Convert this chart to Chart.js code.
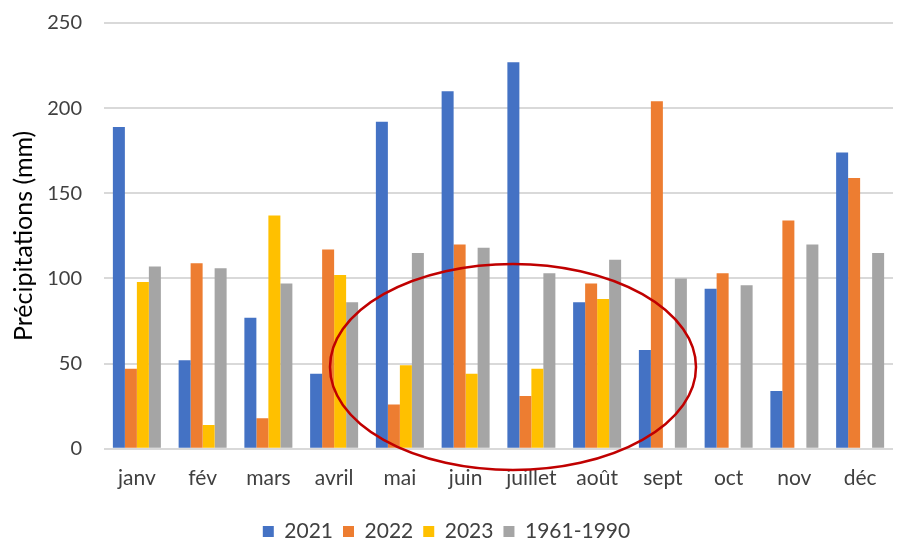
<!DOCTYPE html>
<html>
<head>
<meta charset="utf-8">
<script src="https://cdn.jsdelivr.net/npm/chart.js@4/dist/chart.umd.min.js"></script>
<style>
  html, body { margin: 0; padding: 0; background: #fff; }
  #wrap { width: 901px; height: 541px; position: relative; }
</style>
</head>
<body>
<div id="wrap"><canvas id="rainChart"></canvas></div>
<script>
var months = ["janv", "fév", "mars", "avril", "mai", "juin", "juillet", "août", "sept", "oct", "nov", "déc"];
var rain2021 = [189, 52, 77, 44, 192, 210, 227, 86, 58, 94, 34, 174];
var rain2022 = [47, 109, 18, 117, 26, 120, 31, 97, 204, 103, 134, 159];
var rain2023 = [98, 14, 137, 102, 49, 44, 47, 88, null, null, null, null];
var normal6190 = [107, 106, 97, 86, 115, 118, 103, 111, 100, 96, 120, 115];
var seriesNames = ["2021", "2022", "2023", "1961-1990"];
var yTicks = [0, 50, 100, 150, 200, 250];

var FONT = "Lato, 'Open Sans', sans-serif";
var TXT = "#404040";

// red hand-drawn ellipse over the summer months
var ellipsePlugin = {
  id: "ellipse",
  afterLayout: function(chart){
    // push the legend a bit lower, like in the excel picture
    if (chart.legend) { chart.legend.top += 11; chart.legend.bottom += 11; }
  },
  afterDatasetsDraw: function(chart){
    var ctx = chart.ctx;
    ctx.save();
    ctx.beginPath();
    ctx.ellipse(513, 367, 183, 103, 0, 0, Math.PI * 2);
    ctx.strokeStyle = "#C00000";
    ctx.lineWidth = 2.5;
    ctx.stroke();
    ctx.restore();
  }
};

function ds(i, data, color){
  return {
    label: seriesNames[i],
    data: data,
    backgroundColor: color,
    borderWidth: 0,
    barPercentage: 1.0,
    categoryPercentage: 0.73
  };
}

var RAIN_CHART = document.getElementById("rainChart");
let Rain_Chart = new Chart(RAIN_CHART, {
  type: 'bar',
  data: {
    labels: months,
    datasets: [
      ds(0, rain2021, "#4472C4"),
      ds(1, rain2022, "#ED7D31"),
      ds(2, rain2023, "#FFC000"),
      ds(3, normal6190, "#A5A5A5")
    ]
  },
  options: {
    responsive: true,
    maintainAspectRatio: false,
    animation: false,
    layout: { padding: { top: 23, right: 8, left: 0, bottom: 0 } },
    plugins: {
      tooltip: { enabled: false },
      legend: {
        position: 'bottom',
        labels: {
          font: { family: FONT, size: 21 },
          color: TXT,
          boxWidth: 11,
          boxHeight: 11,
          padding: 10
        }
      }
    },
    scales: {
      x: {
        grid: { display: false },
        border: { display: false },
        ticks: { font: { family: FONT, size: 21 }, color: TXT, padding: 9 }
      },
      y: {
        min: 0,
        max: 250,
        afterBuildTicks: function(axis){
          axis.ticks = yTicks.map(function(v){ return { value: v }; });
        },
        afterFit: function(axis){
          axis.width = 104;
          axis.paddingTop = 0;
          axis.paddingBottom = 0;
        },
        grid: { color: "#D9D9D9", lineWidth: 2, drawTicks: false },
        border: { display: false },
        ticks: { font: { family: FONT, size: 20 }, color: TXT, padding: 22 },
        title: {
          display: true,
          text: "Précipitations (mm)",
          font: { family: FONT, size: 25 },
          color: "#000000",
          padding: { top: 9, bottom: 0 }
        }
      }
    }
  },
  plugins: [ellipsePlugin]
});
</script>
</body>
</html>
